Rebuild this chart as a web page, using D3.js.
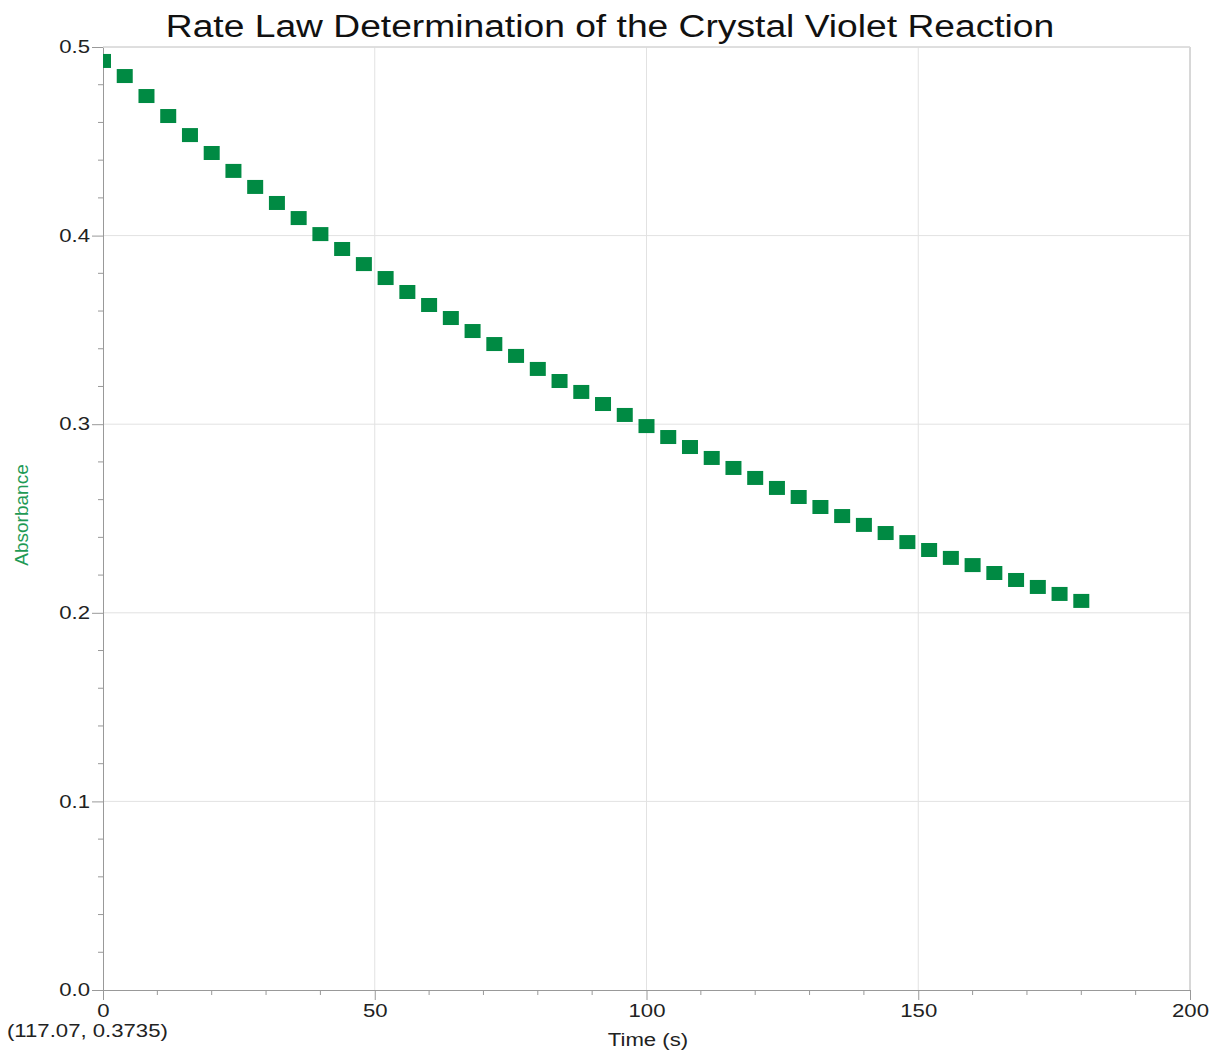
<!doctype html>
<html lang="en">
<head>
<meta charset="utf-8">
<title>Crystal Violet</title>
<script src="https://cdn.jsdelivr.net/npm/d3@7"></script>
<style>
  body { margin: 0; background: #fff; font-family: "Liberation Sans", Arial, sans-serif; }
</style>
</head>
<body>
<svg id="chart"></svg>
<script>
    // data
    const times = [0, 4, 8, 12, 16, 20, 24, 28, 32, 36, 40, 44, 48, 52, 56, 60, 64, 68, 72, 76,
        80, 84, 88, 92, 96, 100, 104, 108, 112, 116, 120, 124, 128, 132, 136, 140, 144, 148,
        152, 156, 160, 164, 168, 172, 176, 180];
    const absorbance = [0.4926, 0.4846, 0.4740, 0.4634, 0.4533, 0.4438, 0.4343, 0.4258, 0.4173,
        0.4093, 0.4008, 0.3929, 0.3849, 0.3775, 0.3701, 0.3632, 0.3563, 0.3494, 0.3425, 0.3362,
        0.3293, 0.3229, 0.3171, 0.3107, 0.3049, 0.2990, 0.2932, 0.2879, 0.2821, 0.2768, 0.2715,
        0.2662, 0.2614, 0.2561, 0.2513, 0.2466, 0.2423, 0.2375, 0.2333, 0.2291, 0.2253, 0.2211,
        0.2174, 0.2137, 0.2100, 0.2063];
    const xTicks = [0, 50, 100, 150, 200];
    const yTicks = [0.0, 0.1, 0.2, 0.3, 0.4, 0.5];

    const W = 1212, H = 1050;
    const margin = { top: 47, right: 22, bottom: 60, left: 103 };
    const width = W - margin.left - margin.right,
        height = H - margin.top - margin.bottom;

    const svg = d3.select("#chart").attr("width", W).attr("height", H);
    const g = svg.append("g").attr("transform", `translate(${margin.left},${margin.top})`);

    const x = d3.scaleLinear().domain([0, 200]).range([0, width]);
    const y = d3.scaleLinear().domain([0, 0.5]).range([height, 0]);

    // the original screenshot is stretched sideways, so widen the horizontal text
    function widen(sel, k) {
        sel.each(function() {
            const len = this.getComputedTextLength();
            d3.select(this).attr("textLength", len * (k || 1.23)).attr("lengthAdjust", "spacingAndGlyphs");
        });
    }

    // gridlines
    g.append("g").selectAll("line").data(xTicks.slice(1)).join("line")
        .attr("x1", d => x(d)).attr("x2", d => x(d))
        .attr("y1", 0).attr("y2", height)
        .attr("stroke", "#e2e2e2").attr("stroke-width", 1);
    g.append("g").selectAll("line").data(yTicks.slice(1)).join("line")
        .attr("x1", 0).attr("x2", width)
        .attr("y1", d => y(d)).attr("y2", d => y(d))
        .attr("stroke", "#e2e2e2").attr("stroke-width", 1);
    // frame right
    g.append("line").attr("x1", width).attr("x2", width).attr("y1", 0).attr("y2", height)
        .attr("stroke", "#cfcfcf").attr("stroke-width", 1.5);

    // minor ticks
    const xMinor = d3.range(0, 201, 10).filter(d => d % 50 !== 0);
    const yMinor = d3.range(0, 0.5001, 0.02).filter(d => Math.abs(d * 10 - Math.round(d * 10)) > 1e-6);
    g.append("g").selectAll("line").data(xMinor).join("line")
        .attr("x1", d => x(d)).attr("x2", d => x(d))
        .attr("y1", height).attr("y2", height + 5)
        .attr("stroke", "#999");
    g.append("g").selectAll("line").data(yMinor).join("line")
        .attr("x1", -5).attr("x2", 0)
        .attr("y1", d => y(d)).attr("y2", d => y(d))
        .attr("stroke", "#999");

    // axes
    const xAxis = g.append("g").attr("transform", `translate(0,${height})`)
        .call(d3.axisBottom(x).tickValues(xTicks).tickFormat(d3.format("d")).tickSize(10).tickPadding(4));
    const yAxis = g.append("g")
        .call(d3.axisLeft(y).tickValues(yTicks).tickFormat(d3.format(".1f")).tickSize(11).tickPadding(2));
    [xAxis, yAxis].forEach(a => {
        a.select(".domain").attr("stroke", "#999");
        a.selectAll(".tick line").attr("stroke", "#999");
        a.selectAll("text").attr("fill", "#222").style("font-size", "18px")
            .style("font-family", "'Liberation Sans', Arial, sans-serif")
            .call(widen);
    });
    // top frame line
    g.append("line").attr("x1", 0).attr("x2", width).attr("y1", 0).attr("y2", 0)
        .attr("stroke", "#d8d8d8").attr("stroke-width", 1.5);

    // points
    svg.append("clipPath").attr("id", "plotclip")
        .append("rect").attr("width", width).attr("height", height);
    const sq_w = 16, sq_h = 14;
    g.append("g").attr("clip-path", "url(#plotclip)")
        .selectAll("rect").data(times).join("rect")
        .attr("x", (d) => x(d) - sq_w / 2)
        .attr("y", (d, i) => y(absorbance[i]) - sq_h / 2)
        .attr("width", sq_w).attr("height", sq_h)
        .attr("fill", "#008a43");

    // title and labels
    svg.append("text").attr("x", 610).attr("y", 37).attr("text-anchor", "middle")
        .style("font-size", "31px").attr("fill", "#111")
        .text("Rate Law Determination of the Crystal Violet Reaction")
        .call(widen, 1.2);
    svg.append("text").attr("transform", "translate(28,515) rotate(-90)")
        .attr("text-anchor", "middle").style("font-size", "19px").attr("fill", "#1f9a55")
        .text("Absorbance");
    svg.append("text").attr("x", 648).attr("y", 1046).attr("text-anchor", "middle")
        .style("font-size", "18px").attr("fill", "#222").text("Time (s)")
        .call(widen);
    svg.append("text").attr("x", 7).attr("y", 1037)
        .style("font-size", "18px").attr("fill", "#222").text("(117.07, 0.3735)")
        .call(widen);
</script>
</body>
</html>
